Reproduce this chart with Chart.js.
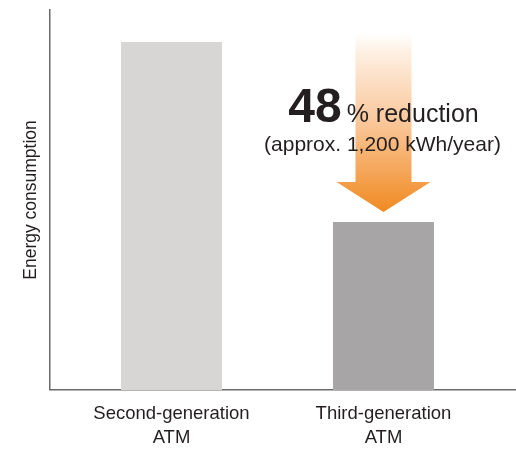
<!DOCTYPE html>
<html>
<head>
<meta charset="utf-8">
<script src="https://cdn.jsdelivr.net/npm/chart.js@4/dist/chart.umd.min.js"></script>
<style>
  html, body { margin: 0; padding: 0; background: #ffffff; }
  #wrap { width: 516px; height: 449px; }
</style>
</head>
<body>
<div id="wrap"><canvas id="c" width="516" height="449"></canvas></div>
<script>
// ATM generations and their relative energy consumption
const categories = [['Second-generation', 'ATM'], ['Third-generation', 'ATM']];
const consumption = [91.6, 44.2];
const barColors = ['#D7D6D5', '#A7A5A6'];
const reductionLabel = '48';
const reductionText = '% reduction';
const savingText = '(approx. 1,200 kWh/year)';

const narrow = "'Liberation Sans Narrow', 'Liberation Sans', Arial, sans-serif";
const sans = "'Liberation Sans', Arial, sans-serif";
const axisColor = '#6a6a6a';
const textColor = '#231F20';

// Orange down arrow with the reduction note, placed over the newer ATM's bar
const reductionArrow = {
  id: 'reductionArrow',
  afterDatasetsDraw(chart) {
    const ctx = chart.ctx;
    const bar = chart.getDatasetMeta(0).data[1];
    const cx = bar.x;
    const tipY = bar.y - 10;
    const headTop = tipY - 30;
    const shaftTop = chart.chartArea.top + 23;
    const shaftHalf = 28, headHalf = 47;

    ctx.save();
    const g = ctx.createLinearGradient(0, shaftTop, 0, tipY);
    g.addColorStop(0, 'rgba(255,255,255,1)');
    g.addColorStop(0.12, '#FEEEE0');
    g.addColorStop(0.5, '#FAC79A');
    g.addColorStop(1, '#F08A22');
    ctx.fillStyle = g;
    ctx.beginPath();
    ctx.moveTo(cx - shaftHalf, shaftTop);
    ctx.lineTo(cx + shaftHalf, shaftTop);
    ctx.lineTo(cx + shaftHalf, headTop);
    ctx.lineTo(cx + headHalf, headTop);
    ctx.lineTo(cx, tipY);
    ctx.lineTo(cx - headHalf, headTop);
    ctx.lineTo(cx - shaftHalf, headTop);
    ctx.closePath();
    ctx.fill();

    // "48 % reduction" on one baseline, centred on the bar
    ctx.fillStyle = textColor;
    ctx.textBaseline = 'alphabetic';
    ctx.textAlign = 'left';
    const bigFont = 'bold 48px ' + sans;
    const midFont = '25px ' + sans;
    ctx.font = bigFont;
    const wBig = ctx.measureText(reductionLabel).width;
    ctx.font = midFont;
    const wMid = ctx.measureText(reductionText).width;
    const gap = 5;
    const startX = cx - (wBig + gap + wMid) / 2;
    const base1 = tipY - 90;
    ctx.font = bigFont;
    ctx.fillText(reductionLabel, startX, base1);
    ctx.font = midFont;
    ctx.fillText(reductionText, startX + wBig + gap, base1);

    ctx.font = '21px ' + sans;
    ctx.textAlign = 'center';
    ctx.fillText(savingText, cx - 1, tipY - 61);
    ctx.restore();
  }
};

new Chart(document.getElementById('c'), {
  type: 'bar',
  data: {
    datasets: [{
      data: consumption.map((v, i) => ({ x: i, y: v })),
      backgroundColor: barColors,
      borderWidth: 0,
      categoryPercentage: 1,
      barPercentage: 0.476
    }]
  },
  options: {
    responsive: false,
    animation: false,
    layout: { padding: { top: 10, left: 10, right: 0, bottom: -13 } },
    plugins: { legend: { display: false }, tooltip: { enabled: false } },
    scales: {
      x: {
        type: 'linear',
        offset: false,
        min: -0.573,
        max: 1.625,
        afterBuildTicks(scale) {
          scale.ticks = categories.map((c, i) => ({ value: i }));
        },
        grid: { display: false, drawTicks: false, offset: false },
        border: { display: true, color: axisColor, width: 1.5 },
        ticks: {
          callback: (v) => categories[v],
          padding: 12,
          maxRotation: 0,
          autoSkip: false,
          color: textColor,
          font: { family: narrow, size: 18.5, lineHeight: 1.3 }
        }
      },
      y: {
        min: 0,
        max: 100,
        grid: { display: false, drawTicks: false },
        border: { display: true, color: axisColor, width: 1.5 },
        ticks: { display: false },
        title: {
          display: true,
          text: 'Energy consumption',
          color: textColor,
          font: { family: narrow, size: 17.5, lineHeight: 1.2 },
          padding: { top: 11, bottom: 8 }
        }
      }
    }
  },
  plugins: [reductionArrow]
});
</script>
</body>
</html>
